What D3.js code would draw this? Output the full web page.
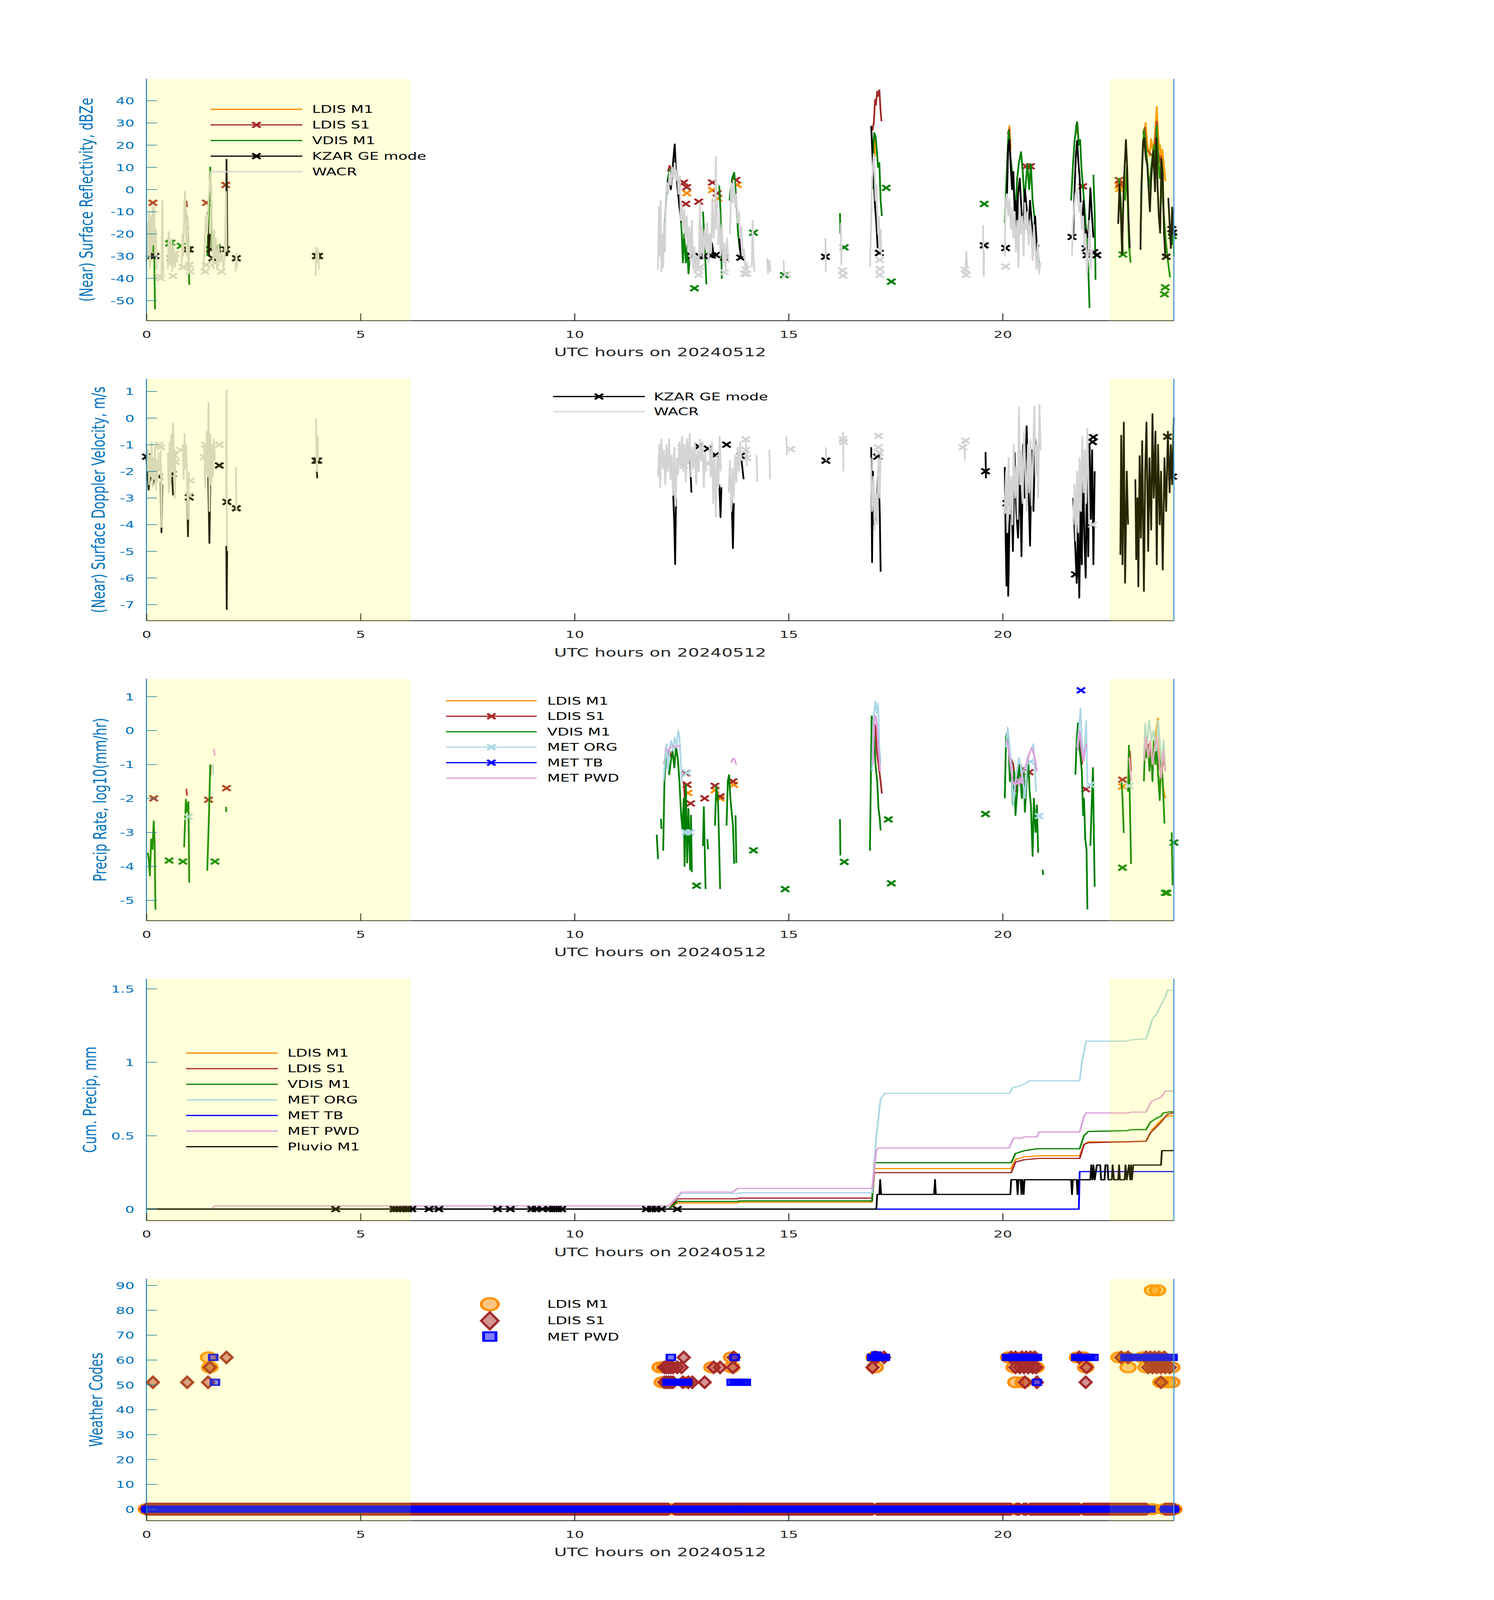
<!DOCTYPE html>
<html><head><meta charset="utf-8">
<script src="https://cdn.jsdelivr.net/npm/d3@7/dist/d3.min.js"></script>
<style>html,body{margin:0;padding:0;background:#fff;overflow:hidden;}svg{display:block;}</style>
</head><body>
<script>
// ---------------- DATA ----------------
const xTicks = [0, 5, 10, 15, 20];
const xLabel = "UTC hours on 20240512";
const nightShade = [[0, 6.17], [22.5, 24]];

// Panel 1: reflectivity (dBZe)
const reflTicks = [-50, -40, -30, -20, -10, 0, 10, 20, 30, 40];
const reflLdisM1 = [
 [[1.49,-2],[1.5,1]],
 [[16.98,20],[17.0,23.1],[17.02,15]],
 [[20.13,25],[20.16,28.6],[20.19,18]],
 [[21.72,25],[21.75,29],[21.78,20]],
 [[22.85,0],[22.9,8]],
 [[23.28,22],[23.32,26],[23.34,30],[23.38,20],[23.43,15],[23.47,22.8],[23.5,18],[23.55,22],[23.6,37.3],[23.63,25],[23.66,18],[23.68,20],[23.7,10],[23.73,18],[23.76,12],[23.8,3.8]]
];
const reflLdisM1Pts = [[12.62,-1.7],[13.22,-0.3],[13.35,-4.1],[13.8,2.1],[22.72,1.7],[22.73,0.2]];
const reflLdisS1 = [
 [[0.93,-5],[0.95,-8]],
 [[12.18,8],[12.22,10.7],[12.26,9]],
 [[16.96,26.6],[16.99,30],[17.02,40.4],[17.04,38],[17.07,44.2],[17.09,42],[17.12,44.8],[17.15,35],[17.17,30.7]],
 [[20.12,25],[20.15,27],[20.18,15]],
 [[21.71,28],[21.74,30.4],[21.77,22]],
 [[23.28,25],[23.32,28],[23.36,18],[23.5,15],[23.55,20],[23.6,30.7],[23.63,18],[23.67,12],[23.7,15],[23.74,5]]
];
const reflLdisS1Pts = [[0.15,-6],[1.4,-6],[1.85,2],[12.55,3.1],[12.62,1.0],[12.6,-6.5],[12.9,-5.5],[13.22,3.1],[13.33,-1.7],[13.77,4.2],[20.55,10.4],[20.65,10.4],[21.87,1.4],[22.72,4.2],[22.74,2.5]];
const reflVdis = [
 [[0.08,-34],[0.11,-22],[0.14,-28],[0.17,-16],[0.2,-54]],
 [[0.9,-5],[0.93,-15],[0.97,-20],[1.0,-43]],
 [[1.42,-30],[1.46,-10],[1.49,10],[1.51,0],[1.53,-28]],
 [[12.1,-20],[12.14,-3],[12.18,5],[12.22,9],[12.26,6],[12.3,10],[12.34,12.8],[12.38,6],[12.42,2],[12.46,-8],[12.5,-18],[12.53,-33],[12.56,-20],[12.6,-33],[12.63,-25],[12.66,-38],[12.7,-30]],
 [[13.0,-10],[13.04,-25],[13.08,-42.7]],
 [[13.38,1.7],[13.41,-10],[13.44,-40.3]],
 [[13.62,-5],[13.68,5],[13.73,7.6],[13.78,-5],[13.82,-20],[13.86,-27.2]],
 [[16.2,-10.7],[16.21,-20]],
 [[16.96,0],[16.98,20],[17.0,25.5],[17.03,24],[17.06,18],[17.09,10],[17.12,12],[17.15,-5],[17.18,-12]],
 [[20.05,-15],[20.1,10],[20.14,26.6],[20.18,15],[20.22,8],[20.26,0],[20.3,-10],[20.34,5],[20.38,12],[20.43,16.9],[20.47,8],[20.51,-5],[20.55,5],[20.58,11.4],[20.62,0],[20.66,11.4],[20.7,-5],[20.74,-12],[20.78,-20],[20.82,-28],[20.86,-35]],
 [[21.6,-5],[21.64,10],[21.68,22],[21.72,28],[21.74,30.4],[21.78,20],[21.81,22.4],[21.84,10],[21.88,0],[21.92,-10],[21.96,-20],[22.0,-35],[22.03,-53.4]],
 [[22.12,6.6],[22.15,-10],[22.17,-40.7]],
 [[22.72,5.2],[22.76,-5],[22.81,-29.3]],
 [[22.86,-5],[22.9,10],[22.95,-25],[22.99,-33]],
 [[23.22,-20],[23.26,10],[23.3,26.9],[23.34,20],[23.38,12],[23.42,0],[23.46,8],[23.5,15],[23.54,20],[23.58,10],[23.6,28.6],[23.63,15],[23.67,5],[23.7,12],[23.74,-5],[23.78,-15],[23.82,-25],[23.86,-32],[23.91,-39.6]],
 [[23.97,-25],[23.99,-15],[24.0,-30]]
];
const reflVdisPts = [[0.54,-24.3],[0.57,-24],[0.81,-25.4],[1.63,-26],[12.8,-44.5],[14.18,-19.5],[14.9,-38.6],[16.3,-26.1],[17.28,0.7],[17.4,-41.5],[19.57,-6.5],[22.81,-29.3],[23.8,-44.1],[23.78,-47.2],[23.97,-21]];
const reflKzar = [
 [[0.1,-25],[0.12,-15],[0.14,-22]],
 [[0.92,-15],[0.95,-12],[0.97,-18]],
 [[1.43,-10],[1.46,-30],[1.48,-20]],
 [[1.86,-30],[1.87,13.5],[1.88,-5],[1.89,-30]],
 [[12.15,-2],[12.2,5],[12.25,0],[12.3,12],[12.34,20.4],[12.37,8],[12.4,2],[12.45,-8],[12.5,-15]],
 [[12.7,-25],[12.73,-20],[12.76,-29]],
 [[13.18,-28],[13.21,-24],[13.25,-30]],
 [[13.85,-22],[13.88,-30]],
 [[16.93,28.6],[16.96,15],[16.99,5],[17.02,-8],[17.05,-15],[17.08,-26.5]],
 [[20.1,-5],[20.13,20],[20.16,22.4],[20.19,10],[20.22,0],[20.25,8],[20.28,-10],[20.31,-5],[20.33,-23.8],[20.36,-2],[20.4,5],[20.44,-10],[20.48,-18],[20.52,0],[20.56,-8],[20.6,-20],[20.64,-5],[20.68,-15],[20.72,-22],[20.76,-12],[20.8,-28],[20.84,-25]],
 [[21.65,-20],[21.68,0],[21.71,15],[21.74,22],[21.77,12],[21.8,5],[21.83,-10],[21.86,-15],[21.89,-5],[21.92,-25],[21.95,-18],[22.0,-22],[22.05,0.7],[22.08,-10],[22.12,-21.7]],
 [[22.7,-15.5],[22.73,2.4],[22.77,-16],[22.79,-29.3],[22.83,2.4],[22.88,22.4],[22.91,9.3],[22.94,-12.7],[22.97,-26.5]],
 [[23.22,-27.2],[23.24,1],[23.28,21.7],[23.31,23.1],[23.34,14.9],[23.38,10.7],[23.44,-10],[23.47,4.5],[23.52,17.6],[23.56,-1],[23.59,23.1],[23.62,1],[23.65,-12.7],[23.68,-19.6],[23.71,13.8],[23.74,7],[23.77,-19.6],[23.8,-30]],
 [[23.87,-3.8],[23.93,-26.5],[23.96,-8],[24.0,-20]]
];
const reflKzarPts = [[0.12,-30],[0.2,-30],[0.58,-31],[0.95,-27],[1.0,-27],[1.5,-27],[1.55,-31],[1.65,-27],[1.85,-27],[2.1,-31],[3.97,-30],[4.02,-30],[12.75,-30],[12.92,-30],[13.02,-30],[13.2,-29.7],[13.3,-29.5],[13.5,-30.7],[13.88,-30.7],[15.86,-30.3],[17.12,-28.6],[19.57,-25.2],[20.07,-26.4],[21.62,-21.4],[21.95,-26.5],[21.97,-29.6],[22.13,-28.3],[22.2,-29.6],[23.82,-30.3],[23.95,-17.9],[23.97,-19.5]];
const reflWacr = [
 [[0.0,-33],[0.02,-15],[0.04,-30],[0.06,-10],[0.08,-35],[0.1,-12],[0.12,-28],[0.14,-8],[0.16,-25],[0.18,-7],[0.2,-30],[0.22,-18],[0.24,-36]],
 [[0.35,-40],[0.36,-20],[0.37,-5],[0.38,-30],[0.4,-38]],
 [[0.5,-36],[0.52,-19],[0.55,-34],[0.58,-22],[0.6,-37],[0.63,-25],[0.66,-35],[0.69,-28],[0.72,-33]],
 [[0.82,-36],[0.84,-20],[0.86,-30],[0.88,-10],[0.9,-1],[0.92,-15],[0.94,-30],[0.96,-12],[0.98,-38],[1.0,-25]],
 [[1.33,-37],[1.36,-25],[1.39,-12],[1.42,-20],[1.45,-5],[1.48,3],[1.5,8],[1.52,-10],[1.55,-30]],
 [[1.56,-36],[1.58,-18],[1.6,-30],[1.62,-22],[1.65,-36],[1.68,-25],[1.72,-33],[1.76,-28],[1.8,-36],[1.83,-29],[1.86,-1],[1.87,-28]],
 [[2.08,-37],[2.1,-29],[2.12,-35]],
 [[3.95,-39],[3.97,-26],[3.99,-33],[4.01,-27],[4.03,-36]],
 [[11.95,-36],[11.97,-8],[11.99,-30],[12.01,-5],[12.03,-37],[12.05,-20],[12.07,-35],[12.09,-15],[12.11,-28],[12.13,-4],[12.16,3],[12.19,-2],[12.22,8],[12.25,2],[12.28,10],[12.31,5],[12.34,12],[12.37,4],[12.4,9],[12.43,-2],[12.46,6],[12.48,-14],[12.5,-6],[12.53,-18],[12.56,-9],[12.59,-22],[12.62,-12],[12.65,-28],[12.68,-17],[12.71,-33],[12.74,-14],[12.77,-36],[12.8,-26],[12.83,-37],[12.86,-30],[12.89,-36]],
 [[12.9,-34],[12.93,-6],[12.95,-30],[12.98,-16],[13.01,-31],[13.04,-18],[13.07,-27],[13.1,-15],[13.13,-33],[13.16,-20],[13.19,-28],[13.22,-4],[13.25,-22],[13.28,-10],[13.3,15],[13.31,-18],[13.33,-5]],
 [[13.35,-25],[13.38,-10],[13.41,-30],[13.44,-16],[13.47,-34],[13.5,-24],[13.53,-36],[13.56,-22],[13.6,-33]],
 [[13.63,-20],[13.66,3],[13.69,-6],[13.72,4],[13.75,-8],[13.78,-2],[13.81,-15],[13.84,-10],[13.87,-22],[13.9,-17],[13.93,-30],[13.96,-27],[13.99,-35],[14.02,-33],[14.04,-36]],
 [[14.14,-35],[14.16,-14],[14.18,-30],[14.2,-37]],
 [[14.5,-31],[14.52,-38],[14.55,-32],[14.58,-37]],
 [[14.88,-32],[14.9,-38]],
 [[15.86,-22],[15.87,-37]],
 [[16.22,-15],[16.23,-34],[16.24,-25]],
 [[16.9,-35],[16.93,-14],[16.95,4],[16.97,10],[16.99,16],[17.01,7],[17.03,-5],[17.05,2],[17.07,-10],[17.09,-20],[17.11,-12],[17.13,-28],[17.15,-18],[17.17,-30]],
 [[19.13,-38],[19.15,-28],[19.17,-35]],
 [[19.54,-16],[19.56,-39],[19.57,-28]],
 [[20.05,-30],[20.07,-5],[20.1,-2],[20.13,-12],[20.16,-4],[20.19,-18],[20.22,-8],[20.25,-22],[20.28,-10],[20.31,-28],[20.34,-14],[20.37,-35],[20.4,-8],[20.43,-20],[20.46,-12],[20.49,-30],[20.52,-6],[20.55,-18],[20.58,-10],[20.61,-25],[20.64,-14],[20.67,-20],[20.7,-32],[20.73,-16],[20.76,-26],[20.79,-36],[20.82,-24],[20.85,-38],[20.88,-33]],
 [[21.62,-30],[21.64,-16],[21.67,-8],[21.7,-2],[21.73,0],[21.76,-5],[21.79,-10],[21.82,-6],[21.85,-18],[21.88,-12],[21.91,-26],[21.94,-20],[21.97,-38],[22.0,-28],[22.03,-14],[22.06,-36],[22.09,-27]]
];
const reflWacrPts = [[0.3,-39],[0.33,-40],[0.6,-31],[0.62,-39],[0.67,-29],[0.85,-35],[1.0,-34],[1.02,-37],[1.37,-37],[1.4,-34],[1.6,-33],[1.63,-30],[1.75,-37],[12.88,-36],[12.9,-38.5],[12.93,-35],[13.5,-37.3],[13.97,-38],[14.0,-36],[14.02,-38],[14.95,-38.3],[16.26,-36.5],[16.27,-38.8],[17.13,-31.7],[17.13,-35.8],[17.13,-38.5],[19.12,-36],[19.15,-38.5],[20.07,-34.7]];

// Panel 2: Doppler velocity (m/s)
const velTicks = [-7, -6, -5, -4, -3, -2, -1, 0, 1];
const velKzar = [
 [[0.0,-1.5],[0.05,-2.7],[0.1,-2.0],[0.15,-2.5],[0.2,-2.1]],
 [[0.33,-2.4],[0.35,-4.3],[0.37,-2.5]],
 [[0.6,-2.2],[0.62,-2.9]],
 [[0.95,-2.8],[0.97,-4.45],[0.98,-3.0]],
 [[1.44,-2.0],[1.47,-4.7],[1.49,-2.5]],
 [[1.865,-4.8],[1.875,-7.18],[1.885,-5.0]],
 [[3.98,-2.0],[3.99,-2.26]],
 [[12.3,-2.7],[12.33,-4.0],[12.35,-5.49],[12.37,-3.0]],
 [[12.7,-1.6],[12.73,-2.8]],
 [[13.38,-2.5],[13.41,-3.73],[13.43,-2.6]],
 [[13.67,-3.0],[13.7,-4.89],[13.72,-3.2]],
 [[13.9,-1.6],[13.95,-2.3]],
 [[16.93,-1.1],[16.95,-5.42],[16.97,-2.0],[17.0,-4.0],[17.05,-3.6],[17.1,-1.8],[17.13,-3.6],[17.15,-5.77]],
 [[19.6,-1.28],[19.61,-2.26]],
 [[20.05,-1.84],[20.07,-4.5],[20.09,-6.3],[20.11,-3.0],[20.13,-6.68],[20.16,-4.0],[20.2,-2.5],[20.24,-5.0],[20.28,-1.3],[20.32,-3.5],[20.36,-4.5],[20.4,-2.0],[20.44,-5.2],[20.48,-1.0],[20.52,-3.0],[20.56,-0.3],[20.6,-2.4],[20.64,-4.8],[20.68,-1.2],[20.72,-3.5],[20.76,-0.8],[20.8,-1.5]],
 [[21.65,-3.0],[21.7,-5.0],[21.73,-6.2],[21.76,-4.0],[21.79,-6.75],[21.82,-3.5],[21.85,-5.5],[21.88,-1.5],[21.91,-4.5],[21.94,-6.0],[21.97,-2.0],[22.0,-5.2],[22.03,-1.0],[22.06,-3.8],[22.09,-1.2],[22.12,-5.5],[22.15,-2.0]],
 [[22.75,-5.14],[22.77,-0.65],[22.8,-5.5],[22.83,-0.16],[22.86,-6.19],[22.9,-2.0],[22.93,-4.0]],
 [[23.1,-2.3],[23.12,-5.31],[23.15,-3.0],[23.17,-6.33],[23.2,-1.42],[23.23,-4.5],[23.26,-0.86],[23.3,-6.5],[23.33,-2.0],[23.36,-0.16],[23.4,-5.0],[23.43,-1.5],[23.47,-4.2],[23.5,0.16],[23.53,-3.0],[23.57,-0.5],[23.6,-5.5],[23.63,-1.0],[23.67,-4.0],[23.7,-2.0],[23.74,-5.7],[23.78,-1.5],[23.82,-3.5],[23.86,-0.5],[23.9,-2.8],[23.93,-1.0],[23.96,-2.5],[24.0,0.02]]
];
const velKzarPts = [[0.0,-1.45],[0.28,-2.2],[0.6,-2.1],[1.0,-2.98],[1.7,-1.78],[1.88,-3.15],[2.1,-3.39],[3.96,-1.6],[4.0,-1.6],[12.9,-1.07],[13.12,-1.15],[13.29,-1.39],[13.55,-1.0],[13.88,-1.42],[15.87,-1.6],[17.08,-1.45],[19.6,-2.0],[20.1,-3.2],[21.7,-5.87],[22.12,-0.72],[22.1,-0.9],[23.85,-0.7],[23.97,-2.2]];
const velWacr = [
 [[0.0,-1.0],[0.02,-2.0],[0.04,-1.2],[0.06,-2.5],[0.08,-1.4],[0.1,-2.2],[0.12,-0.9],[0.14,-2.6],[0.16,-1.5],[0.18,-2.3],[0.2,-1.1],[0.22,-2.7],[0.24,-1.6],[0.26,-2.4],[0.28,-1.3],[0.3,-2.0]],
 [[0.33,-1.2],[0.34,-2.5],[0.35,-4.1],[0.36,-2.0]],
 [[0.5,-1.3],[0.52,-2.8],[0.54,-0.9],[0.56,-2.5],[0.58,-0.6],[0.6,-2.0],[0.62,-0.2],[0.64,-1.6],[0.66,-3.0],[0.68,-1.2]],
 [[0.85,-1.0],[0.87,-2.3],[0.89,-0.6],[0.91,-1.9],[0.93,-1.0],[0.95,-2.6],[0.97,-3.8],[0.99,-2.0]],
 [[1.35,-1.0],[1.37,-2.6],[1.39,-1.5],[1.41,-0.5],[1.43,-2.2],[1.45,0.58],[1.47,-3.5],[1.49,-0.6],[1.51,-2.5],[1.53,-1.0],[1.55,-2.2],[1.57,-0.8],[1.6,-1.6]],
 [[1.86,-3.0],[1.87,1.04],[1.88,-4.8]],
 [[2.09,-1.84],[2.1,-3.5]],
 [[3.96,0.0],[3.97,-1.0],[3.98,-2.0],[4.0,-0.7],[4.01,-1.6]],
 [[11.95,-2.2],[11.98,-1.0],[12.0,-2.6],[12.03,-0.8],[12.06,-1.9],[12.09,-1.2],[12.12,-2.5],[12.15,-1.0],[12.18,-2.0],[12.21,-0.8],[12.24,-2.3],[12.27,-1.4],[12.3,-2.9],[12.33,-1.1],[12.36,-3.3],[12.39,-1.5],[12.42,-2.1],[12.45,-0.9],[12.48,-1.8],[12.51,-0.7],[12.54,-2.0],[12.57,-1.0],[12.6,-2.4],[12.63,-0.8],[12.66,-1.7],[12.69,-0.6],[12.72,-2.2],[12.75,-1.1],[12.78,-1.9],[12.81,-0.9],[12.84,-2.5],[12.87,-1.2],[12.9,-2.0],[12.93,-0.8],[12.96,-1.6],[12.99,-0.9],[13.02,-2.6],[13.05,-1.3],[13.08,-2.0]],
 [[13.15,-1.0],[13.18,-2.2],[13.21,-0.9],[13.24,-3.2],[13.27,-1.5],[13.3,-3.7],[13.33,-1.4],[13.36,-2.6],[13.39,-0.7],[13.42,-2.0]],
 [[13.6,-2.8],[13.63,-1.6],[13.66,-3.5],[13.69,-1.9],[13.72,-3.0],[13.75,-1.4],[13.78,-2.4],[13.81,-1.1],[13.84,-2.0],[13.87,-0.9],[13.9,-1.6]],
 [[14.0,-0.8],[14.02,-1.8],[14.04,-1.1]],
 [[14.25,-1.4],[14.27,-2.4]],
 [[14.55,-1.2],[14.57,-2.3]],
 [[14.95,-0.7],[14.96,-1.4]],
 [[15.87,-1.1],[15.88,-1.6]],
 [[16.27,-0.5],[16.28,-2.0]],
 [[16.92,-1.5],[16.95,-3.5],[16.98,-2.2],[17.01,-4.2],[17.04,-2.8],[17.07,-4.0],[17.1,-1.5],[17.13,-3.0],[17.15,-1.2]],
 [[19.1,-0.8],[19.12,-1.6]],
 [[20.05,-3.5],[20.08,-2.0],[20.11,-4.3],[20.14,-1.5],[20.17,-3.6],[20.2,-2.2],[20.23,-4.0],[20.26,-1.0],[20.29,-3.0],[20.32,-1.8],[20.35,-3.8],[20.38,0.4],[20.41,-2.5],[20.44,-1.2],[20.47,-3.2],[20.5,-0.5],[20.53,-2.0],[20.56,-3.5],[20.59,-1.0],[20.62,-2.8],[20.65,-0.8],[20.68,-3.3],[20.71,-1.5],[20.74,0.45],[20.77,-2.2],[20.8,-1.0],[20.83,-3.0],[20.86,0.5],[20.89,-1.2]],
 [[21.65,-4.0],[21.68,-2.5],[21.71,-4.6],[21.74,-2.0],[21.77,-4.3],[21.8,-1.5],[21.83,-3.5],[21.86,-0.7],[21.89,-2.8],[21.92,-1.2],[21.95,-3.2],[21.98,-0.4],[22.0,-2.0],[22.02,-4.0]]
];
const velWacrPts = [[0.3,-1.0],[0.33,-1.1],[0.65,-1.4],[0.68,-1.65],[0.8,-1.2],[1.03,-2.35],[1.0,-2.9],[1.35,-1.47],[1.38,-1.0],[1.7,-1.0],[12.5,-1.1],[12.55,-1.8],[13.15,-1.7],[14.0,-0.8],[14.0,-1.2],[14.03,-1.5],[15.05,-1.17],[16.27,-0.79],[16.28,-0.9],[17.1,-0.67],[17.1,-1.1],[17.12,-1.3],[19.07,-1.1],[19.13,-0.85],[20.1,-3.5],[22.1,-4.0]];

// Panel 3: precip rate, log10(mm/hr)
const rateTicks = [-5, -4, -3, -2, -1, 0, 1];
const rateLdisM1 = [
 [[12.15,-0.8],[12.2,-1.0]],
 [[20.12,-0.3],[20.16,-0.6]],
 [[23.55,-0.5],[23.6,0.1],[23.63,0.36],[23.66,-0.3],[23.7,-1.0],[23.75,-1.7],[23.8,-2.0]]
];
const rateLdisM1Pts = [[12.65,-1.84],[13.28,-1.76],[13.4,-2.0],[13.72,-1.6],[22.8,-1.65]];
const rateLdisS1 = [
 [[0.93,-1.72],[0.95,-1.92]],
 [[1.49,-1.34],[1.5,-1.03]],
 [[12.1,-1.0],[12.14,-0.5],[12.18,-0.7],[12.22,-0.6],[12.26,-0.8]],
 [[12.55,-1.5],[12.58,-2.1]],
 [[16.96,-0.5],[17.0,0.2],[17.03,0.1],[17.06,-0.6],[17.1,-1.0],[17.13,-1.3],[17.18,-1.86]],
 [[20.1,-0.3],[20.14,-0.4],[20.18,-0.8],[20.25,-1.0],[20.3,-1.8],[20.35,-1.2],[20.42,-1.0],[20.5,-1.4]],
 [[21.74,-0.2],[21.78,0.0],[21.82,-0.5],[21.86,-1.0]],
 [[22.97,-0.6],[23.0,-1.2]],
 [[23.32,-0.2],[23.36,-0.6],[23.42,-0.4],[23.48,-1.0],[23.55,-0.7],[23.6,-0.3],[23.65,-1.0],[23.7,-1.3],[23.75,-0.9]]
];
const rateLdisS1Pts = [[0.17,-2.0],[1.45,-2.04],[1.87,-1.7],[12.6,-1.26],[12.63,-1.6],[12.71,-2.15],[13.04,-2.0],[13.28,-1.63],[13.4,-1.94],[13.7,-1.5],[20.62,-1.23],[21.94,-1.73],[22.8,-1.45]];
const rateVdis = [
 [[0.03,-3.6],[0.05,-3.75],[0.08,-4.28],[0.11,-3.2],[0.14,-3.5],[0.17,-2.67],[0.19,-3.3],[0.21,-5.28]],
 [[0.88,-3.44],[0.92,-2.03],[0.95,-2.4],[0.98,-2.1],[1.0,-4.48]],
 [[1.42,-4.13],[1.46,-2.5],[1.49,-1.0]],
 [[1.86,-2.25],[1.865,-2.4]],
 [[11.92,-3.07],[11.95,-3.79]],
 [[12.02,-2.6],[12.03,-2.9]],
 [[12.07,-3.54],[12.1,-1.5],[12.13,-0.9],[12.17,-0.7],[12.21,-1.3],[12.25,-0.9],[12.29,-0.6],[12.33,-1.1],[12.37,-0.49],[12.41,-0.8],[12.45,-1.5],[12.49,-2.5],[12.52,-2.9],[12.55,-2.0],[12.57,-4.0],[12.6,-1.6],[12.63,-3.9],[12.66,-2.3],[12.7,-4.1],[12.72,-2.5],[12.74,-4.17]],
 [[13.0,-3.4],[13.02,-2.25],[13.06,-4.67]],
 [[13.1,-3.2],[13.12,-3.5]],
 [[13.28,-2.8],[13.31,-1.64],[13.35,-2.0],[13.38,-3.5],[13.4,-4.67]],
 [[13.55,-2.8],[13.58,-1.5],[13.61,-1.31],[13.64,-2.0],[13.67,-2.4],[13.7,-2.8],[13.73,-3.93]],
 [[13.76,-2.5],[13.78,-3.9]],
 [[16.2,-2.61],[16.21,-3.68]],
 [[16.9,-3.54],[16.94,0.42],[16.97,0.3],[17.0,-0.2],[17.03,-1.0],[17.07,-1.5],[17.1,-2.3],[17.13,-2.6],[17.15,-2.94]],
 [[20.05,-2.0],[20.08,-0.2],[20.11,-0.05],[20.14,-0.5],[20.17,-1.5],[20.2,-1.0],[20.24,-2.2],[20.27,-1.2],[20.3,-2.5],[20.34,-1.8],[20.38,-1.0],[20.42,-1.5],[20.45,-2.0],[20.49,-1.1],[20.52,-2.4],[20.56,-1.5],[20.6,-0.9],[20.63,-1.8],[20.66,-2.2],[20.7,-3.7],[20.73,-2.0],[20.77,-3.0],[20.8,-2.2],[20.83,-3.6]],
 [[20.93,-4.1],[20.95,-4.25]],
 [[21.7,-1.3],[21.73,-0.3],[21.76,0.22],[21.79,-0.5],[21.82,-0.8],[21.85,-1.2],[21.88,-2.5],[21.9,-2.0],[21.93,-3.2],[21.96,-3.5],[21.98,-5.27]],
 [[22.05,-3.4],[22.08,-2.2],[22.11,-1.1],[22.13,-3.0],[22.15,-4.6]],
 [[22.78,-1.53],[22.8,-2.0],[22.83,-3.02]],
 [[22.93,-1.8],[22.95,-0.44],[22.97,-2.0],[23.0,-3.93]],
 [[23.3,-1.5],[23.33,-0.22],[23.36,-0.8],[23.4,-0.5],[23.43,-1.2],[23.47,-0.6],[23.5,-1.5],[23.53,-0.3],[23.57,-1.0],[23.6,-0.4],[23.63,-1.3],[23.67,-2.06],[23.7,-0.8],[23.74,-1.5],[23.78,-2.74]],
 [[23.95,-3.0],[23.97,-4.56]]
];
const rateVdisPts = [[0.53,-3.83],[0.85,-3.86],[1.6,-3.86],[12.85,-4.57],[14.18,-3.53],[14.92,-4.67],[16.3,-3.87],[17.33,-2.62],[17.4,-4.5],[19.6,-2.46],[22.8,-4.04],[23.8,-4.78],[23.84,-4.78],[24.0,-3.3]];
const rateMetOrg = [
 [[1.55,-1.0],[1.56,-1.3]],
 [[12.08,-1.5],[12.12,-0.8],[12.15,-0.4],[12.18,-1.2],[12.22,-0.5],[12.26,-0.3],[12.3,-0.6],[12.34,-0.2],[12.38,-0.5],[12.42,0.0],[12.45,-0.2],[12.48,-0.9],[12.51,-1.5]],
 [[16.95,-1.2],[16.98,0.3],[17.0,0.6],[17.03,0.86],[17.06,0.5],[17.09,0.8],[17.12,-0.5],[17.15,-1.0]],
 [[20.08,-0.5],[20.12,0.09],[20.15,-0.3],[20.2,-1.0],[20.25,-2.2],[20.3,-1.5],[20.38,-0.8],[20.45,-1.2],[20.52,-2.0],[20.58,-0.8],[20.65,-0.6],[20.72,-0.4],[20.78,-1.8]],
 [[21.74,-0.5],[21.78,0.0],[21.82,0.66],[21.85,-0.3],[21.9,-0.9],[21.95,0.3],[21.98,-1.5]],
 [[23.3,-0.8],[23.33,0.2],[23.37,-0.5],[23.42,0.3],[23.48,-0.3],[23.53,0.0],[23.58,-0.6],[23.63,0.3],[23.68,-0.5],[23.72,-1.0],[23.76,-0.3],[23.8,-1.2]]
];
const rateMetOrgPts = [[0.98,-2.54],[12.63,-1.25],[12.6,-3.0],[12.7,-3.0],[20.65,-0.92],[20.85,-2.52],[22.05,-1.6],[22.95,-1.63]];
const rateMetTbPts = [[21.83,1.18]];
const rateMetPwd = [
 [[1.57,-0.54],[1.6,-0.74]],
 [[12.12,-0.55],[12.18,-0.6],[12.24,-0.5],[12.3,-0.45],[12.36,-0.5],[12.42,-0.44],[12.48,-0.5]],
 [[13.66,-0.95],[13.7,-0.82],[13.74,-0.85],[13.78,-1.01]],
 [[16.97,-1.0],[17.0,0.3],[17.03,0.44],[17.06,0.2],[17.1,-0.5],[17.14,-1.2]],
 [[20.1,-0.3],[20.13,-0.5],[20.16,-0.8],[20.2,-1.2],[20.25,-1.6],[20.3,-1.5],[20.38,-1.6],[20.45,-1.3],[20.55,-1.0],[20.62,-0.7],[20.68,-0.5],[20.75,-0.8],[20.8,-1.2]],
 [[21.75,-0.6],[21.78,-0.2],[21.8,0.0],[21.84,-0.5],[21.88,-0.9],[21.92,-0.6],[21.96,-0.4]],
 [[22.96,-0.8],[23.0,-1.5]],
 [[23.3,-0.9],[23.35,-0.2],[23.4,-0.8],[23.45,-0.3],[23.5,-1.0],[23.55,-0.5],[23.6,-0.2],[23.65,-0.8],[23.7,-1.4],[23.75,-0.6],[23.8,-1.2]]
];
const rateMetPwdPts = [[20.4,-1.5]];

// Panel 4: cumulative precip (mm)
const cumTicks = [0, 0.5, 1, 1.5];
const cumLdisM1 = [[0,0],[12.2,0],[12.4,0.042],[13.8,0.042],[13.85,0.047],[16.95,0.047],[17.0,0.276],[20.2,0.276],[20.3,0.339],[20.5,0.355],[20.85,0.363],[21.8,0.363],[21.9,0.44],[22.0,0.458],[22.9,0.458],[23.35,0.462],[23.5,0.543],[23.65,0.59],[23.75,0.617],[23.85,0.634],[24.0,0.634]];
const cumLdisS1 = [[0,0],[12.2,0],[12.4,0.07],[13.8,0.07],[13.85,0.075],[16.95,0.075],[17.0,0.248],[20.2,0.248],[20.3,0.32],[20.5,0.336],[20.85,0.345],[21.8,0.345],[21.9,0.44],[22.0,0.452],[22.9,0.458],[23.35,0.462],[23.45,0.519],[23.6,0.561],[23.7,0.5915],[23.85,0.646],[24.0,0.655]];
const cumVdis = [[0,0],[12.2,0],[12.4,0.052],[13.8,0.052],[13.85,0.056],[16.95,0.056],[17.0,0.316],[20.2,0.316],[20.3,0.379],[20.5,0.397],[20.8,0.411],[21.8,0.411],[21.9,0.5],[22.0,0.5285],[22.9,0.534],[23.0,0.541],[23.35,0.541],[23.45,0.5915],[23.6,0.62],[23.7,0.632],[23.75,0.654],[23.9,0.6618],[24.0,0.6618]];
const cumMetOrg = [[0,0],[12.1,0],[12.3,0.05],[12.5,0.106],[13.8,0.106],[13.85,0.111],[16.95,0.111],[17.05,0.5],[17.15,0.75],[17.25,0.788],[20.17,0.788],[20.22,0.827],[20.4,0.837],[20.55,0.858],[20.62,0.873],[21.8,0.873],[21.85,1.0],[21.95,1.143],[22.9,1.143],[23.0,1.152],[23.35,1.16],[23.4,1.198],[23.5,1.295],[23.6,1.33],[23.7,1.39],[23.8,1.445],[23.85,1.489],[24.0,1.489]];
const cumMetTb = [[0,0],[21.78,0],[21.8,0.2557],[24,0.2557]];
const cumMetPwd = [[0,0],[1.5,0],[1.6,0.022],[12.2,0.022],[12.5,0.116],[13.7,0.116],[13.8,0.1405],[16.95,0.1405],[17.05,0.4],[17.1,0.4157],[20.15,0.4157],[20.25,0.4824],[20.45,0.4824],[20.5,0.492],[20.8,0.492],[20.85,0.525],[21.8,0.525],[21.9,0.63],[21.95,0.6546],[22.95,0.6546],[23.0,0.66],[23.35,0.66],[23.45,0.72],[23.5,0.737],[23.7,0.76],[23.8,0.8037],[24.0,0.8037]];
const cumPluvio = [[0,0],[17.05,0],[17.07,0.1],[17.12,0.1],[17.14,0.2],[17.16,0.1],[18.4,0.1],[18.42,0.2],[18.44,0.1],[20.18,0.1],[20.2,0.2],[20.33,0.2],[20.35,0.1],[20.37,0.2],[20.42,0.2],[20.44,0.1],[20.46,0.2],[20.49,0.1],[20.51,0.2],[21.6,0.2],[21.62,0.1],[21.64,0.2],[21.73,0.2],[21.75,0.1],[21.77,0.2],[22.05,0.2],[22.07,0.3],[22.1,0.2],[22.12,0.3],[22.15,0.2],[22.2,0.3],[22.28,0.3],[22.3,0.2],[22.38,0.2],[22.4,0.3],[22.45,0.3],[22.47,0.2],[22.55,0.2],[22.57,0.3],[22.6,0.2],[22.7,0.2],[22.72,0.3],[22.74,0.2],[22.85,0.2],[22.87,0.3],[22.9,0.2],[22.95,0.3],[22.98,0.2],[23.0,0.3],[23.02,0.2],[23.05,0.3],[23.7,0.3],[23.72,0.398],[24.0,0.398]];
const cumPluvioPts = [[4.42,0],[5.78,0],[5.85,0],[5.92,0],[6.0,0],[6.1,0],[6.2,0],[6.6,0],[6.83,0],[8.2,0],[8.5,0],[9.0,0],[9.1,0],[9.25,0],[9.4,0],[9.5,0],[9.6,0],[9.7,0],[11.68,0],[11.8,0],[11.9,0],[12.03,0],[12.4,0]];

// Panel 5: weather codes
const codeTicks = [0, 10, 20, 30, 40, 50, 60, 70, 80, 90];
const codeLdisM1Zero = [[0,12.2],[12.3,16.97],[17.05,20.2],[20.28,20.3],[20.36,20.37],[20.52,20.54],[20.65,21.79],[21.87,22.85],[22.98,23.35],[23.49,23.5],[23.78,24.0]];
const codeLdisS1Zero = [[0,12.18],[12.35,16.95],[17.07,20.18],[20.33,20.38],[20.5,20.55],[20.65,21.78],[21.9,23.35],[23.8,24.0]];
const codeMetPwdZero = [[0,12.3],[12.45,13.8],[13.83,17.0],[17.07,20.22],[20.32,21.8],[21.9,23.45],[23.8,24.0]];
const codeLdisM1 = [[1.45,61],[1.48,57],[12.0,57],[12.1,57],[12.05,51],[12.15,51],[12.6,51],[13.21,57],[13.67,57],[13.67,61],[17.0,61],[17.02,57],[20.14,61],[20.44,61],[20.69,61],[20.27,57],[20.78,57],[20.31,51],[20.48,51],[21.75,61],[21.88,61],[21.94,57],[22.72,61],[22.89,61],[23.27,61],[23.44,61],[23.7,61],[22.93,57],[23.35,57],[23.5,57],[23.65,57],[23.8,57],[23.95,57],[23.7,51],[23.85,51],[23.95,51],[23.5,88],[23.62,88]];
const codeLdisS1 = [[0.15,51],[0.95,51],[1.44,51],[1.48,57],[1.87,61],[12.1,57],[12.15,57],[12.2,57],[12.25,57],[12.3,57],[12.4,57],[12.5,57],[12.1,51],[12.15,51],[12.2,51],[12.25,51],[12.3,51],[12.53,51],[12.66,51],[12.75,51],[13.04,51],[12.55,61],[13.25,57],[13.4,57],[13.7,57],[13.72,61],[16.96,57],[17.0,61],[17.05,61],[17.23,61],[20.2,61],[20.3,61],[20.45,61],[20.55,61],[20.65,61],[20.75,61],[20.3,57],[20.4,57],[20.5,57],[20.6,57],[20.7,57],[20.78,57],[20.52,51],[20.8,51],[21.79,61],[21.96,57],[21.94,51],[22.77,61],[22.93,61],[23.35,61],[23.45,61],[23.55,61],[23.65,61],[23.78,61],[23.4,57],[23.5,57],[23.6,57],[23.7,57],[23.8,57],[23.9,57],[23.7,51]];
const codeMetPwd = [[1.56,61],[1.6,51],[12.25,61],[12.17,51],[12.23,51],[12.3,51],[12.37,51],[12.45,51],[12.52,51],[12.58,51],[12.63,51],[13.74,61],[13.67,51],[13.74,51],[13.8,51],[13.87,51],[13.94,51],[14.0,51],[16.95,61],[17.0,61],[17.05,61],[17.1,61],[17.15,61],[17.2,61],[17.25,61],[17.05,62],[20.1,61],[20.15,61],[20.2,61],[20.25,61],[20.3,61],[20.35,61],[20.4,61],[20.45,61],[20.5,61],[20.55,61],[20.6,61],[20.65,61],[20.7,61],[20.75,61],[20.8,61],[20.8,51],[21.72,61],[21.78,61],[21.85,61],[21.9,61],[21.95,61],[22.0,61],[22.05,61],[22.12,61],[22.87,61],[22.92,61],[22.98,61],[23.05,61],[23.1,61],[23.15,61],[23.27,61],[23.33,61],[23.4,61],[23.47,61],[23.55,61],[23.62,61],[23.7,61],[23.77,61],[23.85,61],[23.91,61],[23.97,61]];

// ---------------- DRAWING ----------------
const W = 3825, H = 6000;
const FONT = "'DejaVu Sans', Verdana, sans-serif";
const AX = "#0072BD", DARK = "#262626";
const C = {m1:"#FF8C00", s1:"#A52A2A", vdis:"#008000", kzar:"#000000", wacr:"#D3D3D3",
           org:"#ADD8E6", tb:"#0000FF", pwd:"#DDA0DD", pluvio:"#000000"};
const LW = 4.5;
const numFmt = d => String(d);   // plain hyphen minus, as in the reference

// fit the 3825x6000 drawing into whatever viewport the page is photographed in
const vw = window.innerWidth || W, vh = window.innerHeight || H;
const svg = d3.select("body").append("svg").attr("width", vw).attr("height", vh)
  .attr("viewBox", `0 0 ${W} ${H}`).attr("preserveAspectRatio", "none")
  .style("font-family", FONT);
svg.append("rect").attr("width", W).attr("height", H).attr("fill", "#fff");

const x = d3.scaleLinear().domain([0, 24]).range([375, 3005.4]);
const PH = 907;

function panel(top, ydom, ticks, label, labelX) {
  const y = d3.scaleLinear().domain(ydom).range([top + PH, top]);
  const g = svg.append("g");
  const data = g.append("g");
  const axes = g.append("g");
  const over = g.append("g");
  const leg = g.append("g");
  return {top, y, g, data, over, axes, leg, ticks, label, labelX};
}

function drawAxes(p) {
  const bottom = p.top + PH;
  const a = p.axes;
  const yAxis = d3.axisLeft(p.y).tickValues(p.ticks).tickSize(-27).tickPadding(0).tickFormat(numFmt);
  const ga = a.append("g").attr("transform", `translate(${x(0)},0)`).call(yAxis);
  ga.select(".domain").remove();
  ga.selectAll(".tick line").attr("stroke", AX).attr("stroke-width", 2.5);
  ga.selectAll(".tick text").attr("x", -31).attr("fill", AX).attr("font-size", 37.5)
    .attr("font-family", FONT).attr("dy", "0.36em").attr("text-anchor", "end");
  a.append("line").attr("x1", x(0)).attr("x2", x(0)).attr("y1", p.top).attr("y2", bottom)
    .attr("stroke", AX).attr("stroke-width", 2.5);
  const xAxis = d3.axisBottom(x).tickValues(xTicks).tickSize(-27).tickPadding(0).tickFormat(numFmt);
  const gx = a.append("g").attr("transform", `translate(0,${bottom})`).call(xAxis);
  gx.select(".domain").remove();
  gx.selectAll(".tick line").attr("stroke", DARK).attr("stroke-width", 2.5);
  gx.selectAll(".tick text").attr("y", 64).attr("dy", 0).attr("fill", DARK).attr("font-size", 37.5)
    .attr("font-family", FONT);
  a.append("line").attr("x1", x(0)).attr("x2", x(24)).attr("y1", bottom).attr("y2", bottom)
    .attr("stroke", DARK).attr("stroke-width", 3);
  a.append("text").attr("x", (x(0) + x(24)) / 2).attr("y", bottom + 134).attr("text-anchor", "middle")
    .attr("font-size", 45).attr("fill", DARK).text(xLabel);
  a.append("text").attr("transform", `translate(${p.labelX},${p.top + PH / 2}) rotate(-90)`)
    .attr("text-anchor", "middle").attr("font-size", 46.5).attr("fill", AX).text(p.label);
}

function shade(p) {
  nightShade.forEach(([a, b]) => {
    p.over.append("rect").attr("x", x(a)).attr("y", p.top).attr("width", x(b) - x(a))
      .attr("height", PH + 2).attr("fill", "#ffff00").attr("fill-opacity", 0.15);
  });
  p.leg.append("line").attr("x1", x(24)).attr("x2", x(24)).attr("y1", p.top).attr("y2", p.top + PH)
    .attr("stroke", "#4f9fd4").attr("stroke-width", 3);
}

const lineGen = (p) => d3.line().x(d => x(d[0])).y(d => p.y(d[1]));

function drawSegs(p, segs, color, w) {
  const lg = lineGen(p);
  p.data.append("g").selectAll("path").data(segs).join("path")
    .attr("d", lg).attr("fill", "none").attr("stroke", color).attr("stroke-width", w || LW)
    .attr("stroke-linejoin", "round").attr("stroke-linecap", "butt");
}
const XM = "M-10.5,-10.5L10.5,10.5M-10.5,10.5L10.5,-10.5";
function drawX(p, pts, color) {
  p.data.append("g").selectAll("path").data(pts).join("path")
    .attr("transform", d => `translate(${x(d[0])},${p.y(d[1])})`)
    .attr("d", XM).attr("fill", "none").attr("stroke", color).attr("stroke-width", 6.5);
}
function legend(p, items, x0, x1, tx, y0, dy) {
  items.forEach((it, i) => {
    const yy = y0 + i * dy;
    if (it.line !== false) {
      p.leg.append("line").attr("x1", x0).attr("x2", x1).attr("y1", yy).attr("y2", yy)
        .attr("stroke", it.color).attr("stroke-width", LW);
    }
    if (it.marker) {
      p.leg.append("path").attr("transform", `translate(${(x0 + x1) / 2},${yy})`).attr("d", XM)
        .attr("fill", "none").attr("stroke", it.color).attr("stroke-width", 6.5);
    }
    p.leg.append("text").attr("x", tx).attr("y", yy).attr("dy", "0.36em").attr("font-size", 38.5)
      .attr("fill", "#000").text(it.name);
  });
}

// ---- Panel 1
const p1 = panel(295.6, [-59.1, 49.8], reflTicks, "(Near) Surface Reflectivity, dBZe", 237);
drawSegs(p1, reflLdisM1, C.m1); drawX(p1, reflLdisM1Pts, C.m1);
drawSegs(p1, reflLdisS1, C.s1); drawX(p1, reflLdisS1Pts, C.s1);
drawSegs(p1, reflVdis, C.vdis); drawX(p1, reflVdisPts, C.vdis);
drawSegs(p1, reflKzar, C.kzar); drawX(p1, reflKzarPts, C.kzar);
drawSegs(p1, reflWacr, C.wacr); drawX(p1, reflWacrPts, C.wacr);
drawAxes(p1); shade(p1);
legend(p1, [{name:"LDIS M1", color:C.m1}, {name:"LDIS S1", color:C.s1, marker:true},
  {name:"VDIS M1", color:C.vdis}, {name:"KZAR GE mode", color:C.kzar, marker:true},
  {name:"WACR", color:C.wacr}], 539, 774, 799, 410, 58.5);

// ---- Panel 2
const p2 = panel(1420.7, [-7.61, 1.47], velTicks, "(Near) Surface Doppler Velocity, m/s", 268);
drawSegs(p2, velKzar, C.kzar); drawX(p2, velKzarPts, C.kzar);
drawSegs(p2, velWacr, C.wacr); drawX(p2, velWacrPts, C.wacr);
drawAxes(p2); shade(p2);
legend(p2, [{name:"KZAR GE mode", color:C.kzar, marker:true}, {name:"WACR", color:C.wacr}],
  1416, 1651, 1674, 1487, 57);

// ---- Panel 3
const p3 = panel(2545.5, [-5.6, 1.52], rateTicks, "Precip Rate, log10(mm/hr)", 272);
drawSegs(p3, rateLdisM1, C.m1); drawX(p3, rateLdisM1Pts, C.m1);
drawSegs(p3, rateLdisS1, C.s1); drawX(p3, rateLdisS1Pts, C.s1);
drawSegs(p3, rateVdis, C.vdis); drawX(p3, rateVdisPts, C.vdis);
drawSegs(p3, rateMetOrg, C.org); drawX(p3, rateMetOrgPts, C.org);
drawX(p3, rateMetTbPts, C.tb);
drawSegs(p3, rateMetPwd, C.pwd); drawX(p3, rateMetPwdPts, C.pwd);
drawAxes(p3); shade(p3);
legend(p3, [{name:"LDIS M1", color:C.m1}, {name:"LDIS S1", color:C.s1, marker:true},
  {name:"VDIS M1", color:C.vdis}, {name:"MET ORG", color:C.org, marker:true},
  {name:"MET TB", color:C.tb, marker:true}, {name:"MET PWD", color:C.pwd}], 1142, 1374, 1401, 2628, 58);

// ---- Panel 4
const p4 = panel(3670.2, [-0.078, 1.568], cumTicks, "Cum. Precip, mm", 246);
drawSegs(p4, [cumLdisM1], C.m1);
drawSegs(p4, [cumLdisS1], C.s1);
drawSegs(p4, [cumVdis], C.vdis);
drawSegs(p4, [cumMetOrg], C.org);
drawSegs(p4, [cumMetTb], C.tb);
drawSegs(p4, [cumMetPwd], C.pwd);
drawSegs(p4, [cumPluvio], C.pluvio);
drawX(p4, cumPluvioPts, C.pluvio);
drawAxes(p4); shade(p4);
legend(p4, [{name:"LDIS M1", color:C.m1}, {name:"LDIS S1", color:C.s1}, {name:"VDIS M1", color:C.vdis},
  {name:"MET ORG", color:C.org}, {name:"MET TB", color:C.tb}, {name:"MET PWD", color:C.pwd},
  {name:"Pluvio M1", color:C.pluvio}], 476.5, 711, 736, 3949, 58.5);

// ---- Panel 5
const p5 = panel(4795.5, [-4.63, 92.6], codeTicks, "Weather Codes", 262);
const y5 = p5.y;
const CR = 19, DHW = 15, DHH = 21, SQ = 21;
const FA = 0.5; // marker faces are half-transparent
p5.data.append("g").selectAll("rect").data(codeLdisM1Zero).join("rect")
  .attr("x", d => x(d[0]) - CR).attr("width", d => x(d[1]) - x(d[0]) + 2 * CR)
  .attr("y", y5(0) - CR).attr("height", 2 * CR).attr("rx", CR)
  .attr("fill", C.m1).attr("stroke", C.m1).attr("stroke-width", 7);
p5.data.append("g").selectAll("circle").data(codeLdisM1).join("circle")
  .attr("cx", d => x(d[0])).attr("cy", d => y5(d[1])).attr("r", CR)
  .attr("fill", C.m1).attr("fill-opacity", FA).attr("stroke", C.m1).attr("stroke-width", 7);
p5.data.append("g").selectAll("path").data(codeLdisS1Zero).join("path")
  .attr("d", d => { const a = x(d[0]), b = x(d[1]), c = y5(0);
    return `M${a - DHW},${c}L${a},${c - DHH}L${b},${c - DHH}L${b + DHW},${c}L${b},${c + DHH}L${a},${c + DHH}Z`; })
  .attr("fill", C.s1).attr("stroke", C.s1).attr("stroke-width", 7).attr("stroke-linejoin", "miter");
p5.data.append("g").selectAll("path").data(codeLdisS1).join("path")
  .attr("transform", d => `translate(${x(d[0])},${y5(d[1])})`)
  .attr("d", `M0,${-DHH}L${DHW},0L0,${DHH}L${-DHW},0Z`)
  .attr("fill", C.s1).attr("fill-opacity", FA).attr("stroke", C.s1).attr("stroke-width", 7);
p5.data.append("g").selectAll("rect").data(codeMetPwdZero).join("rect")
  .attr("x", d => x(d[0]) - SQ / 2).attr("width", d => x(d[1]) - x(d[0]) + SQ)
  .attr("y", y5(0) - SQ / 2).attr("height", SQ)
  .attr("fill", C.tb).attr("stroke", C.tb).attr("stroke-width", 6);
p5.data.append("g").selectAll("rect").data(codeMetPwd).join("rect")
  .attr("x", d => x(d[0]) - SQ / 2).attr("y", d => y5(d[1]) - SQ / 2).attr("width", SQ).attr("height", SQ)
  .attr("fill", C.tb).attr("fill-opacity", FA).attr("stroke", C.tb).attr("stroke-width", 6);
drawAxes(p5); shade(p5);
const lx = 1254;
p5.leg.append("ellipse").attr("cx", lx).attr("cy", 4891).attr("rx", 22).attr("ry", 23)
  .attr("fill", C.m1).attr("fill-opacity", FA).attr("stroke", C.m1).attr("stroke-width", 7);
p5.leg.append("path").attr("transform", `translate(${lx},4953)`).attr("d", "M0,-32L22,0L0,32L-22,0Z")
  .attr("fill", C.s1).attr("fill-opacity", FA).attr("stroke", C.s1).attr("stroke-width", 7);
p5.leg.append("rect").attr("x", lx - 16).attr("y", 5012 - 16).attr("width", 32).attr("height", 32)
  .attr("fill", C.tb).attr("fill-opacity", FA).attr("stroke", C.tb).attr("stroke-width", 7);
legend(p5, [{name:"LDIS M1", line:false}, {name:"LDIS S1", line:false}, {name:"MET PWD", line:false}],
  0, 0, 1401, 4891, 61);
</script>
</body></html>
